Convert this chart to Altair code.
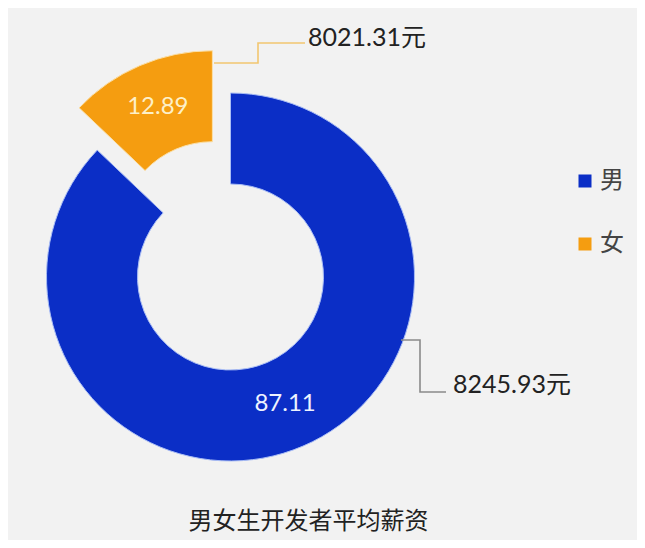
import math
import altair as alt
import pandas as pd

# ---- data ----
categories = ["男", "女"]
percents = [87.11, 12.89]
salaries = [8245.93, 8021.31]
colors = ["#0b2ec6", "#f59d10"]

df = pd.DataFrame({
    "cat": categories,
    "pct": percents,
    "order": [0, 1],
    "salary_label": [f"{s:.2f}元" for s in salaries],
})

# ---- geometry / style ----
CX, CY = 222.5, 269
R_OUT, R_IN = 184, 93
EXPLODE = 46
# explode direction of 女 slice: middle of its angular span
start_f = percents[0]
mid_f = (start_f + 100) / 2 / 100 * 2 * math.pi
DX = EXPLODE * math.sin(mid_f)
DY = -EXPLODE * math.cos(mid_f)

NUM_FONT = "Lato, Noto Sans CJK SC"
CJK_FONT = "Noto Sans CJK SC"

theta_scale = alt.Scale(domain=[0, 100], range=[0, 2 * math.pi])

base = alt.Chart(df).transform_stack(
    stack="pct", groupby=[], as_=["start", "end"], sort=[alt.SortField("order")]
).transform_calculate(mid="(datum.start + datum.end) / 2")

color_enc = alt.Color(
    "cat:N",
    scale=alt.Scale(domain=categories, range=colors),
    legend=alt.Legend(
        title=None, orient="none", legendX=565, legendY=161,
        symbolType="square", symbolSize=169, symbolStrokeWidth=0,
        labelFontSize=24, labelFont=CJK_FONT, labelColor="#444444",
        rowPadding=39, labelOffset=3, padding=0,
    ),
)

arc_m = base.transform_filter(alt.datum.cat == "男").mark_arc(
    innerRadius=R_IN, outerRadius=R_OUT, stroke="#a9bdf5", strokeWidth=1
).encode(
    theta=alt.Theta("start:Q", scale=theta_scale, stack=None),
    theta2="end:Q",
    color=color_enc,
    x=alt.value(CX), y=alt.value(CY),
)

arc_f = base.transform_filter(alt.datum.cat == "女").mark_arc(
    innerRadius=R_IN, outerRadius=R_OUT, stroke="#fbe0a8", strokeWidth=1,
    xOffset=DX, yOffset=DY,
).encode(
    theta=alt.Theta("start:Q", scale=theta_scale, stack=None),
    theta2="end:Q",
    color=color_enc,
    x=alt.value(CX), y=alt.value(CY),
)

lab_m = base.transform_filter(alt.datum.cat == "男").mark_text(
    radius=(R_IN + R_OUT) / 2, font=NUM_FONT, fontSize=24, color="#eef3ff",
).encode(
    theta=alt.Theta("mid:Q", scale=theta_scale, stack=None),
    text=alt.Text("pct:Q", format=".2f"),
    x=alt.value(CX), y=alt.value(CY),
)

lab_f = base.transform_filter(alt.datum.cat == "女").mark_text(
    radius=(R_IN + R_OUT) / 2, font=NUM_FONT, fontSize=24, color="#fdf0c8",
    xOffset=DX, yOffset=DY,
).encode(
    theta=alt.Theta("mid:Q", scale=theta_scale, stack=None),
    text=alt.Text("pct:Q", format=".2f"),
    x=alt.value(CX), y=alt.value(CY),
)

# ---- callout leaders (annotation geometry, pixel space) ----
leader_df = pd.DataFrame({
    "cat": ["女"] * 4 + ["男"] * 4,
    "idx": [0, 1, 2, 3, 0, 1, 2, 3],
    "lx": [206, 250, 250, 297, 393, 412, 412, 438],
    "ly": [55, 55, 35, 35, 332, 332, 384, 384],
    "lc": ["#f2c670"] * 4 + ["#8a8a8a"] * 4,
})
leaders = alt.Chart(leader_df).mark_line(strokeWidth=1.6).encode(
    x=alt.X("lx:Q", scale=None, axis=None),
    y=alt.Y("ly:Q", scale=None, axis=None),
    detail="cat:N",
    order="idx:Q",
    stroke=alt.Stroke("lc:N", scale=None),
)

val_df = df.assign(vx=[445, 300], vy=[377, 30])
values = alt.Chart(val_df).mark_text(
    align="left", baseline="middle", font=NUM_FONT, fontSize=25, color="#222222"
).encode(
    x=alt.X("vx:Q", scale=None, axis=None),
    y=alt.Y("vy:Q", scale=None, axis=None),
    text="salary_label:N",
)

chart = alt.layer(arc_m, arc_f, lab_m, lab_f, leaders, values).properties(
    width=629, height=492,
    autosize="none",
    padding={"left": 0, "top": 0, "right": 0, "bottom": 40},
    background="#f2f2f2",
    title=alt.TitleParams(
        "男女生开发者平均薪资", orient="bottom", anchor="middle",
        font=CJK_FONT, fontSize=24, fontWeight="normal", color="#222222",
        offset=10, dx=-14,
    ),
).configure_view(strokeWidth=0)

chart.save("out.html", embed_options={"renderer": "svg", "actions": False})
